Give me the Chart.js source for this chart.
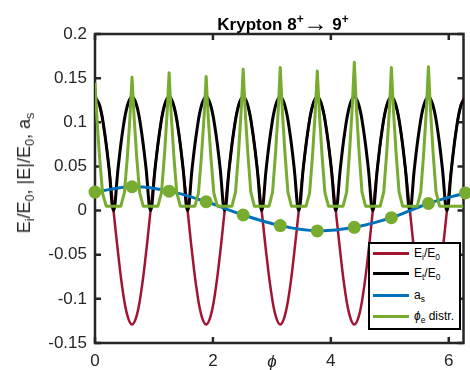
<!DOCTYPE html>
<html>
<head>
<meta charset="utf-8">
<script src="https://cdn.jsdelivr.net/npm/chart.js@4.4.1/dist/chart.umd.min.js"></script>
<style>
  body { margin: 0; background: #fff; }
  #wrap { position: relative; width: 470px; height: 370px; overflow: hidden;
          font-family: "Liberation Sans", Arial, sans-serif; color: #262626; }
  canvas { position: absolute; left: 0; top: 0; }
  .lbl { position: absolute; white-space: nowrap; }
  .sub { font-size: 0.7em; position: relative; top: 0.35em; }
  .sup { font-size: 0.7em; position: relative; top: -0.55em; }
  #title { left: 283px; top: 13px; transform: translateX(-50%); font-size: 17px;
           font-weight: bold; line-height: 17px; color: #000; }
  #title .arr { font-weight: normal; font-size: 24px; position: relative; top: 0.05em; }
  #ylab { left: 25px; top: 173px; transform: translate(-50%, -50%) rotate(-90deg);
          font-size: 18px; line-height: 18px; }
  #xlab { left: 272px; top: 361px; transform: translate(-50%, -50%); font-size: 17px;
          font-style: italic; line-height: 17px; }
  #legend { position: absolute; left: 368px; top: 242px; width: 93px; height: 88px;
            box-sizing: border-box; border: 2px solid #000; background: #fff; }
  .row { position: absolute; left: 3px; width: 86px; height: 20px; font-size: 12px; line-height: 20px; }
  .swatch { position: absolute; left: 0; top: 9px; width: 36px; height: 3px; }
  .txt { position: absolute; left: 41px; white-space: nowrap; color: #000; }
</style>
</head>
<body>
<div id="wrap">
  <canvas id="chart" width="470" height="370"></canvas>
  <div class="lbl" id="title">Krypton 8<span class="sup">+</span><span class="arr">→</span> 9<span class="sup">+</span></div>
  <div class="lbl" id="ylab">E<span class="sub">i</span>/E<span class="sub">0</span>, |E|/E<span class="sub">0</span>, a<span class="sub">s</span></div>
  <div class="lbl" id="xlab">ϕ</div>
  <div id="legend">
    <div class="row" style="top:-1px"><div class="swatch" style="background:#A2142F"></div><div class="txt">E<span class="sub">i</span>/E<span class="sub">0</span></div></div>
    <div class="row" style="top:19px"><div class="swatch" style="background:#000"></div><div class="txt">E<span class="sub">t</span>/E<span class="sub">0</span></div></div>
    <div class="row" style="top:41px"><div class="swatch" style="background:#0072BD"></div><div class="txt">a<span class="sub">s</span></div></div>
    <div class="row" style="top:62px"><div class="swatch" style="background:#77AC30"></div><div class="txt"><i>ϕ</i><span class="sub">e</span> distr.</div></div>
  </div>
</div>
<script>
// field samples (phase grid)
const phi = [0, 0.079, 0.157, 0.236, 0.314, 0.393, 0.471, 0.550, 0.628, 0.707,
  0.785, 0.864, 0.942, 1.021, 1.100, 1.178, 1.257, 1.335, 1.414, 1.492,
  1.571, 1.649, 1.728, 1.806, 1.885, 1.963, 2.042, 2.121, 2.199, 2.278,
  2.356, 2.435, 2.513, 2.592, 2.670, 2.749, 2.827, 2.906, 2.985, 3.063,
  3.142, 3.220, 3.299, 3.377, 3.456, 3.534, 3.613, 3.691, 3.770, 3.848,
  3.927, 4.006, 4.084, 4.163, 4.241, 4.320, 4.398, 4.477, 4.555, 4.634,
  4.712, 4.791, 4.869, 4.948, 5.027, 5.105, 5.184, 5.262, 5.341, 5.419,
  5.498, 5.576, 5.655, 5.733, 5.812, 5.890, 5.969, 6.048, 6.126, 6.205, 6.283];

const eI = [0.129, 0.119, 0.091, 0.049, 0, -0.049, -0.091, -0.119, -0.129, -0.119, -0.091, -0.049, 0, 0.049, 0.091, 0.119,
  0.129, 0.119, 0.091, 0.049, 0, -0.049, -0.091, -0.119, -0.129, -0.119, -0.091, -0.049, 0, 0.049, 0.091, 0.119,
  0.129, 0.119, 0.091, 0.049, 0, -0.049, -0.091, -0.119, -0.129, -0.119, -0.091, -0.049, 0, 0.049, 0.091, 0.119,
  0.129, 0.119, 0.091, 0.049, 0, -0.049, -0.091, -0.119, -0.129, -0.119, -0.091, -0.049, 0, 0.049, 0.091, 0.119,
  0.129, 0.119, 0.091, 0.049, 0, -0.049, -0.091, -0.119, -0.129, -0.119, -0.091, -0.049, 0, 0.049, 0.091, 0.119,
  0.129];

const eT = [0.129, 0.119, 0.091, 0.049, 0, 0.049, 0.091, 0.119,
  0.129, 0.119, 0.091, 0.049, 0, 0.049, 0.091, 0.119,
  0.129, 0.119, 0.091, 0.049, 0, 0.049, 0.091, 0.119,
  0.129, 0.119, 0.091, 0.049, 0, 0.049, 0.091, 0.119,
  0.129, 0.119, 0.091, 0.049, 0, 0.049, 0.091, 0.119,
  0.129, 0.119, 0.091, 0.049, 0, 0.049, 0.091, 0.119,
  0.129, 0.119, 0.091, 0.049, 0, 0.049, 0.091, 0.119,
  0.129, 0.119, 0.091, 0.049, 0, 0.049, 0.091, 0.119,
  0.129, 0.119, 0.091, 0.049, 0, 0.049, 0.091, 0.119,
  0.129, 0.119, 0.091, 0.049, 0, 0.049, 0.091, 0.119,
  0.129];

// a_s at the field maxima (also the green markers)
const sPhi = [0, 0.628, 1.257, 1.885, 2.513, 3.142, 3.770, 4.398, 5.027, 5.655, 6.283];
const aS = [0.021, 0.027, 0.022, 0.010, -0.005, -0.017, -0.023, -0.019, -0.008, 0.008, 0.020];

// electron phase distribution
const gPhi = [0, 0.035, 0.08, 0.13, 0.19,
  0.438, 0.498, 0.548, 0.593, 0.628, 0.663, 0.708, 0.758, 0.818,
  1.067, 1.127, 1.177, 1.222, 1.257, 1.292, 1.337, 1.387, 1.447,
  1.695, 1.755, 1.805, 1.850, 1.885, 1.920, 1.965, 2.015, 2.075,
  2.323, 2.383, 2.433, 2.478, 2.513, 2.548, 2.593, 2.643, 2.703,
  2.952, 3.012, 3.062, 3.107, 3.142, 3.177, 3.222, 3.272, 3.332,
  3.580, 3.640, 3.690, 3.735, 3.770, 3.805, 3.850, 3.900, 3.960,
  4.208, 4.268, 4.318, 4.363, 4.398, 4.433, 4.478, 4.528, 4.588,
  4.837, 4.897, 4.947, 4.992, 5.027, 5.062, 5.107, 5.157, 5.217,
  5.465, 5.525, 5.575, 5.620, 5.655, 5.690, 5.735, 5.785, 5.845,
  6.25];
const gDist = [0.145, 0.102, 0.058, 0.019, 0.005,
  0.005, 0.020, 0.060, 0.106, 0.151, 0.106, 0.060, 0.020, 0.005,
  0.005, 0.020, 0.062, 0.109, 0.156, 0.109, 0.062, 0.020, 0.005,
  0.005, 0.020, 0.061, 0.106, 0.152, 0.106, 0.061, 0.020, 0.005,
  0.005, 0.021, 0.064, 0.112, 0.160, 0.112, 0.064, 0.021, 0.005,
  0.005, 0.021, 0.065, 0.113, 0.162, 0.113, 0.065, 0.021, 0.005,
  0.005, 0.020, 0.063, 0.111, 0.158, 0.111, 0.063, 0.020, 0.005,
  0.005, 0.021, 0.067, 0.117, 0.168, 0.117, 0.067, 0.021, 0.005,
  0.005, 0.021, 0.065, 0.113, 0.162, 0.113, 0.065, 0.021, 0.005,
  0.005, 0.021, 0.065, 0.114, 0.163, 0.114, 0.065, 0.021, 0.005,
  0.005];

const xTicks = [0, 2, 4, 6];
const yTicks = [-0.15, -0.1, -0.05, 0, 0.05, 0.1, 0.15, 0.2];

const pts = (xs, ys) => xs.map((x, i) => ({ x: x, y: ys[i] }));

// MATLAB-like box with inward ticks, drawn under the data
const frame = {
  id: 'frame',
  beforeDatasetsDraw(chart) {
    const { ctx, chartArea: a, scales } = chart;
    ctx.save();
    ctx.strokeStyle = '#262626';
    ctx.lineWidth = 2.5;
    ctx.strokeRect(a.left, a.top, a.right - a.left, a.bottom - a.top);
    ctx.beginPath();
    scales.y.ticks.forEach(t => {
      const py = scales.y.getPixelForValue(t.value);
      ctx.moveTo(a.left, py); ctx.lineTo(a.left + 6, py);
      ctx.moveTo(a.right, py); ctx.lineTo(a.right - 6, py);
    });
    scales.x.ticks.forEach(t => {
      const px = scales.x.getPixelForValue(t.value);
      ctx.moveTo(px, a.bottom); ctx.lineTo(px, a.bottom - 6);
      ctx.moveTo(px, a.top); ctx.lineTo(px, a.top + 6);
    });
    ctx.stroke();
    ctx.restore();
  }
};

const tickFont = { family: '"Liberation Sans", Arial, sans-serif', size: 17 };

new Chart(document.getElementById('chart'), {
  type: 'line',
  data: {
    datasets: [
      { data: pts(sPhi, aS), showLine: false, pointRadius: 6.5, pointBackgroundColor: '#77AC30',
        pointBorderWidth: 0, clip: false, order: 1 },
      { data: pts(gPhi, gDist), borderColor: '#77AC30', borderWidth: 3, pointRadius: 0,
        tension: 0, borderJoinStyle: 'round', order: 2 },
      { data: pts(sPhi, aS), borderColor: '#0072BD', borderWidth: 3, pointRadius: 0,
        tension: 0.4, order: 3 },
      { data: pts(phi, eT), borderColor: '#000000', borderWidth: 3, pointRadius: 0,
        tension: 0.4, order: 4 },
      { data: pts(phi, eI), borderColor: '#A2142F', borderWidth: 2.5, pointRadius: 0,
        tension: 0.4, order: 5 }
    ]
  },
  options: {
    responsive: false,
    animation: false,
    events: [],
    layout: { padding: { top: 34, right: 0, left: 0, bottom: 0 } },
    plugins: { legend: { display: false }, tooltip: { enabled: false } },
    scales: {
      x: {
        type: 'linear', min: 0, max: 6.25,
        grid: { display: false, drawTicks: false },
        border: { display: false },
        afterFit: s => { s.height = 27; },
        afterBuildTicks: s => { s.ticks = xTicks.map(v => ({ value: v })); },
        ticks: { padding: 8, color: '#262626', font: tickFont, includeBounds: false,
                 maxRotation: 0, callback: v => String(v) }
      },
      y: {
        min: -0.15, max: 0.2,
        grid: { display: false, drawTicks: false },
        border: { display: false },
        afterFit: s => { s.width = 95; },
        afterBuildTicks: s => { s.ticks = yTicks.map(v => ({ value: v })); },
        ticks: { padding: 8, color: '#262626', font: tickFont,
                 callback: v => String(Number(v.toFixed(2))) }
      }
    }
  },
  plugins: [frame]
});
</script>
</body>
</html>
